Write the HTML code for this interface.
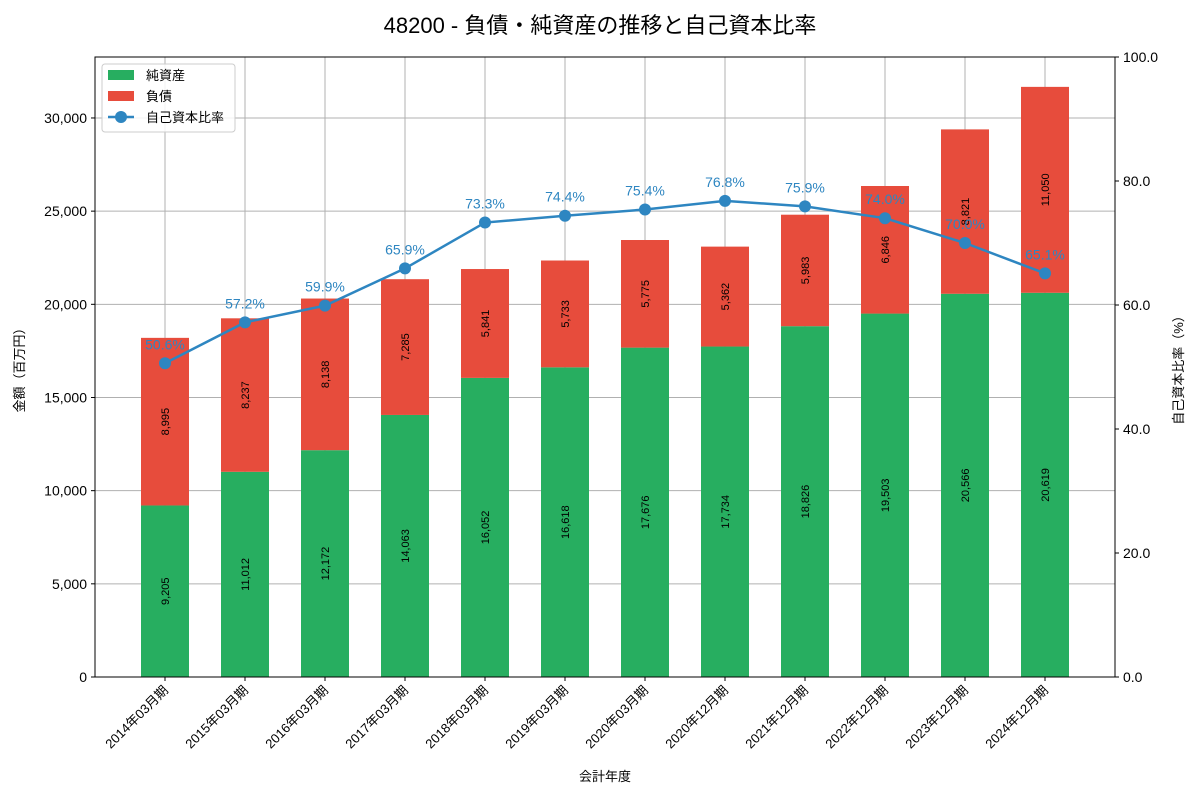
<!DOCTYPE html>
<html><head><meta charset="utf-8"><style>
body{margin:0;background:#fff;font-family:"Liberation Sans","Noto Sans CJK JP",sans-serif}
svg text{font-family:"Liberation Sans","Noto Sans CJK JP",sans-serif}
</style></head><body>
<svg id="c" width="1200" height="800"></svg>
<script>
const categories=["2014年03月期","2015年03月期","2016年03月期","2017年03月期","2018年03月期","2019年03月期","2020年03月期","2020年12月期","2021年12月期","2022年12月期","2023年12月期","2024年12月期"];
const equity=[9205,11012,12172,14063,16052,16618,17676,17734,18826,19503,20566,20619];
const liabilities=[8995,8237,8138,7285,5841,5733,5775,5362,5983,6846,8821,11050];
const ratio=[50.6,57.2,59.9,65.9,73.3,74.4,75.4,76.8,75.9,74.0,70.0,65.1];
const leftTicks=[0,5000,10000,15000,20000,25000,30000];
const rightTicks=[0,20,40,60,80,100];
const svg=document.getElementById('c');const NS='http://www.w3.org/2000/svg';
function el(t,a,txt){const e=document.createElementNS(NS,t);for(const k in a)e.setAttribute(k,a[k]);if(txt!==undefined)e.textContent=txt;svg.appendChild(e);return e;}
const L=95,R=1115,T=57,B=677,YMAX=33272;
const y=v=>B-(v/YMAX)*(B-T);
const yr=v=>B-(v/100)*(B-T);
const x=i=>L+70+i*80;
const fmt=v=>v.toLocaleString('en-US');
let e;
e=el('text',{x:600,y:33,'text-anchor':'middle','font-size':22,fill:'#000'},'48200 - 負債・純資産の推移と自己資本比率');

// grid
categories.forEach((c,i)=>{e=el('line',{x1:x(i),x2:x(i),y1:T,y2:B,stroke:'#b0b0b0','stroke-width':1});
});
leftTicks.forEach(t=>{e=el('line',{x1:L,x2:R,y1:y(t),y2:y(t),stroke:'#b0b0b0','stroke-width':1});

e=el('text',{x:L-8,y:y(t)+5,'text-anchor':'end','font-size':14},fmt(t));

el('line',{x1:L-4,x2:L,y1:y(t),y2:y(t),stroke:'#000'});});
rightTicks.forEach(t=>{e=el('text',{x:R+8,y:yr(t)+5,'font-size':14},t.toFixed(1));

el('line',{x1:R,x2:R+4,y1:yr(t),y2:yr(t),stroke:'#000'});});
// bars
categories.forEach((c,i)=>{
 const bw=48,x0=x(i)-bw/2;
 e=el('rect',{x:x0,y:y(equity[i]),width:bw,height:B-y(equity[i]),fill:'#27ae60'});
 
 const top=equity[i]+liabilities[i];
 e=el('rect',{x:x0,y:y(top),width:bw,height:y(equity[i])-y(top),fill:'#e74c3c'});
 
 const my=(y(0)+y(equity[i]))/2;
 e=el('text',{x:x(i)+4,y:my,'text-anchor':'middle','font-size':11,transform:`rotate(-90 ${x(i)+4} ${my})`},fmt(equity[i]));
 
 const ly=(y(equity[i])+y(top))/2;
 e=el('text',{x:x(i)+4,y:ly,'text-anchor':'middle','font-size':11,transform:`rotate(-90 ${x(i)+4} ${ly})`},fmt(liabilities[i]));
 
 el('line',{x1:x(i),x2:x(i),y1:B,y2:B+4,stroke:'#000'});
 const tx=x(i)+4,ty=B+14;
 e=el('text',{x:tx,y:ty,'text-anchor':'end','font-size':13,transform:`rotate(-45 ${tx} ${ty})`},c);
 
});
// line
e=el('polyline',{points:ratio.map((r,i)=>x(i)+','+yr(r)).join(' '),fill:'none',stroke:'#2e86c1','stroke-width':2.5});

ratio.forEach((r,i)=>{e=el('circle',{cx:x(i),cy:yr(r),r:6,fill:'#2e86c1'});

e=el('text',{x:x(i),y:yr(r)-14,'text-anchor':'middle','font-size':14,fill:'#2e86c1'},r.toFixed(1)+'%');
});
// frame
e=el('rect',{x:L,y:T,width:R-L,height:B-T,fill:'none',stroke:'#000','stroke-width':1});

e=el('text',{x:24,y:367,'text-anchor':'middle','font-size':13,transform:'rotate(-90 24 367)'},'金額（百万円）');

e=el('text',{x:1183,y:367,'text-anchor':'middle','font-size':13,transform:'rotate(-90 1183 367)'},'自己資本比率（%）');

e=el('text',{x:605,y:781,'text-anchor':'middle','font-size':13},'会計年度');

// legend
e=el('rect',{x:102,y:64,width:133,height:68,fill:'#fff','fill-opacity':0.85,stroke:'#ccc',rx:3});

e=el('rect',{x:108,y:70,width:26,height:10,fill:'#27ae60'});
e=el('text',{x:146,y:80,'font-size':13},'純資産');
e=el('rect',{x:108,y:91,width:26,height:10,fill:'#e74c3c'});
e=el('text',{x:146,y:101,'font-size':13},'負債');
e=el('line',{x1:108,x2:134,y1:117,y2:117,stroke:'#2e86c1','stroke-width':2.5});
el('circle',{cx:121,cy:117,r:6,fill:'#2e86c1'});
e=el('text',{x:146,y:122,'font-size':13},'自己資本比率');
</script>
</body></html>
